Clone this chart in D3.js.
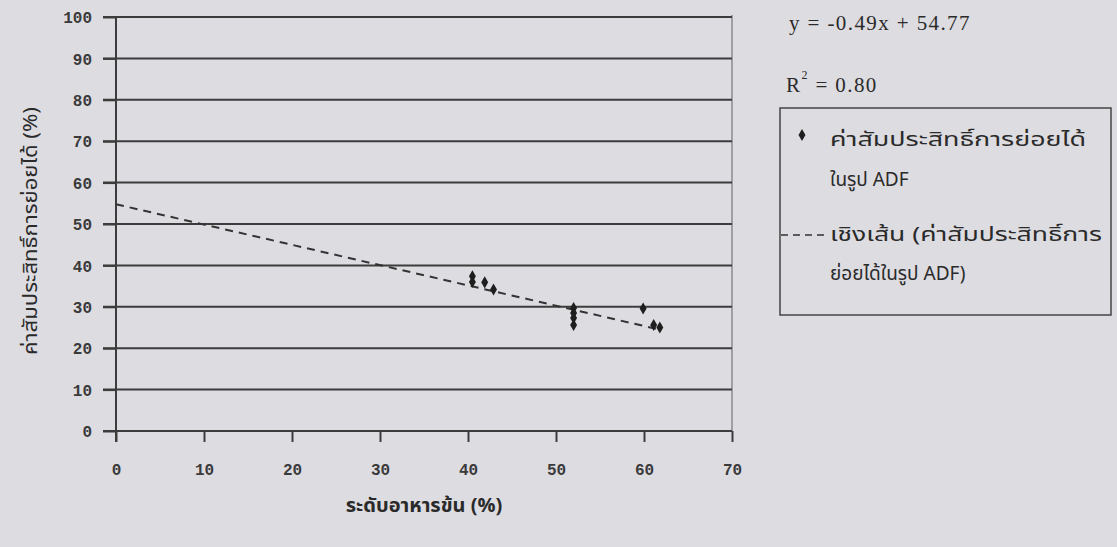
<!DOCTYPE html>
<html>
<head>
<meta charset="utf-8">
<script src="https://cdn.jsdelivr.net/npm/d3@7"></script>
<style>
  html, body { margin: 0; padding: 0; background: #dddce1; }
  svg { display: block; }
  .tick-label { font-family: "Liberation Mono", "DejaVu Sans Mono", monospace; font-weight: bold; font-size: 16px; fill: #3a3a3a; }
  .thai { font-family: "Noto Sans Thai", "Loma", "Garuda", "Norasi", "Tlwg Typo", "Noto Sans", sans-serif; fill: #2a2a2a; }
  .serif { font-family: "Liberation Serif", "Times New Roman", serif; fill: #2a2a2a; }
</style>
</head>
<body>
<script>
// Concentrate level (%) vs ADF digestibility coefficient (%)
const concentrate = [40.5, 40.5, 41.9, 42.9, 52.0, 52.0, 52.0, 52.0, 59.9, 61.1, 61.8];
const digestibility = [37.4, 36.0, 35.9, 34.2, 29.7, 28.5, 27.3, 25.6, 29.6, 25.6, 25.0];

// Linear trend: y = -0.49x + 54.77, R² = 0.80
const slope = -0.49;
const intercept = 54.77;
const rSquared = "0.80";
const trendRange = [0, 61.8];

const xTicks = [0, 10, 20, 30, 40, 50, 60, 70];
const yTicks = [0, 10, 20, 30, 40, 50, 60, 70, 80, 90, 100];

const xTitle = "ระดับอาหารข้น (%)";
const yTitle = "ค่าสัมประสิทธิ์การย่อยได้ (%)";
const legendPoint = ["ค่าสัมประสิทธิ์การย่อยได้", "ในรูป ADF"];
const legendLine = ["เชิงเส้น (ค่าสัมประสิทธิ์การ", "ย่อยได้ในรูป ADF)"];

const W = 1117, H = 547;
const svg = d3.select("body").append("svg").attr("width", W).attr("height", H);

const x = d3.scaleLinear().domain([0, 70]).range([116, 732]);
const y = d3.scaleLinear().domain([0, 100]).range([431, 17]);

const ink = "#3c3c3c";

// right border of the plot area
svg.append("line")
  .attr("x1", x(70)).attr("x2", x(70))
  .attr("y1", y(100) - 2).attr("y2", y(0))
  .attr("stroke", "#8a8a8a").attr("stroke-width", 1.5);

// horizontal gridlines with ticks protruding left of the axis
const gridG = svg.append("g");
gridG.selectAll("line")
  .data(yTicks.filter(d => d > 0))
  .join("line")
  .attr("x1", x(0) - 13).attr("x2", x(70))
  .attr("y1", d => y(d)).attr("y2", d => y(d))
  .attr("stroke", ink).attr("stroke-width", 2);

// y axis
const yAxis = d3.axisLeft(y).tickValues(yTicks).tickSize(13).tickPadding(11).tickFormat(d3.format("d"));
const yG = svg.append("g").attr("transform", `translate(${x(0)},0)`).call(yAxis);
yG.select(".domain").remove();
yG.selectAll(".tick line").attr("stroke", ink).attr("stroke-width", 2);
yG.selectAll(".tick text").attr("class", "tick-label").attr("dy", "0.35em");
svg.append("line")
  .attr("x1", x(0)).attr("x2", x(0))
  .attr("y1", y(100)).attr("y2", y(0) + 11)
  .attr("stroke", ink).attr("stroke-width", 2);

// x axis
const xAxis = d3.axisBottom(x).tickValues(xTicks).tickSize(11).tickPadding(22).tickFormat(d3.format("d"));
const xG = svg.append("g").attr("transform", `translate(0,${y(0)})`).call(xAxis);
xG.select(".domain").attr("stroke", ink).attr("stroke-width", 2).attr("d", `M${x(0) - 13},0H${x(70)}`);
xG.selectAll(".tick line").attr("stroke", ink).attr("stroke-width", 2);
xG.selectAll(".tick text").attr("class", "tick-label");

// trend line
const trend = trendRange.map(v => [v, intercept + slope * v]);
svg.append("path")
  .datum(trend)
  .attr("d", d3.line().x(d => x(d[0])).y(d => y(d[1])))
  .attr("fill", "none")
  .attr("stroke", "#333")
  .attr("stroke-width", 2)
  .attr("stroke-dasharray", "8,6");

// data points
const diamond = d3.symbol().type(d3.symbolDiamond).size(42);
svg.append("g").selectAll("path")
  .data(concentrate.map((c, i) => [c, digestibility[i]]))
  .join("path")
  .attr("d", diamond)
  .attr("transform", d => `translate(${x(d[0])},${y(d[1])})`)
  .attr("fill", "#1e1e1e");

// axis titles
svg.append("text").attr("class", "thai")
  .attr("x", (x(0) + x(70)) / 2).attr("y", 512)
  .attr("text-anchor", "middle")
  .attr("font-size", 20).attr("font-weight", "bold")
  .text(xTitle);

svg.append("text").attr("class", "thai")
  .attr("transform", `translate(37,${(y(0) + y(100)) / 2 + 7}) rotate(-90)`)
  .attr("text-anchor", "middle")
  .attr("font-size", 19)
  .attr("textLength", 248).attr("lengthAdjust", "spacingAndGlyphs")
  .text(yTitle);

// regression annotation
svg.append("text").attr("class", "serif")
  .attr("x", 789).attr("y", 30)
  .attr("font-size", 21).attr("letter-spacing", 1.4)
  .text(`y = ${slope}x + ${intercept}`);

const r2 = svg.append("text").attr("class", "serif")
  .attr("x", 786).attr("y", 92)
  .attr("font-size", 21).attr("letter-spacing", 1.4);
r2.append("tspan").text("R");
r2.append("tspan").attr("dy", -13).attr("font-size", 12).text("2");
r2.append("tspan").attr("dy", 13).text(` = ${rSquared}`);

// legend
const lg = svg.append("g");
lg.append("rect")
  .attr("x", 780).attr("y", 108).attr("width", 331).attr("height", 207)
  .attr("fill", "none").attr("stroke", "#444").attr("stroke-width", 1.5);

lg.append("path")
  .attr("d", diamond)
  .attr("transform", "translate(802,135)")
  .attr("fill", "#1e1e1e");

const pointWidths = [256, null];
lg.selectAll("text.lp")
  .data(legendPoint)
  .join("text")
  .attr("class", "thai lp")
  .attr("x", 830).attr("y", (d, i) => 146 + i * 40)
  .attr("font-size", 19)
  .each(function(d, i) {
    if (pointWidths[i]) d3.select(this).attr("textLength", pointWidths[i]).attr("lengthAdjust", "spacingAndGlyphs");
  })
  .text(d => d);

lg.append("line")
  .attr("x1", 781).attr("x2", 827)
  .attr("y1", 235).attr("y2", 235)
  .attr("stroke", "#333").attr("stroke-width", 1.6)
  .attr("stroke-dasharray", "7,5");

const lineWidths = [272, null];
lg.selectAll("text.ll")
  .data(legendLine)
  .join("text")
  .attr("class", "thai ll")
  .attr("x", 830).attr("y", (d, i) => 241 + i * 39)
  .attr("font-size", 19)
  .each(function(d, i) {
    if (lineWidths[i]) d3.select(this).attr("textLength", lineWidths[i]).attr("lengthAdjust", "spacingAndGlyphs");
  })
  .text(d => d);
</script>
</body>
</html>
